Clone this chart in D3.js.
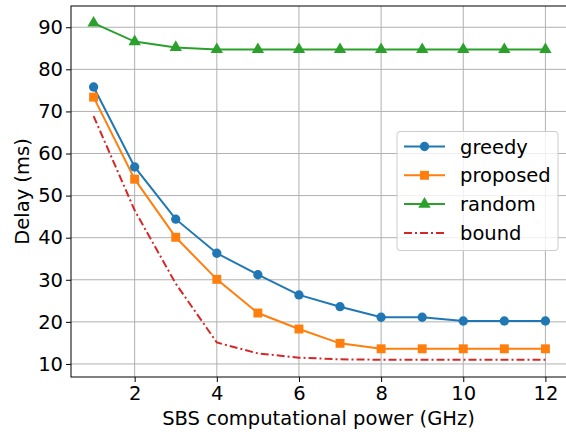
<!DOCTYPE html>
<html>
<head>
<meta charset="utf-8">
<script src="https://cdn.jsdelivr.net/npm/d3@7"></script>
<style>
  body { margin: 0; background: #fff; }
  svg text { font-family: "DejaVu Sans", sans-serif; }
</style>
</head>
<body>
<div id="chart"></div>
<script>
// data
const power = [1, 2, 3, 4, 5, 6, 7, 8, 9, 10, 11, 12];
const greedy = [75.8, 56.8, 44.4, 36.3, 31.2, 26.4, 23.6, 21.1, 21.1, 20.2, 20.2, 20.2];
const proposed = [73.4, 53.9, 40.1, 30.1, 22.1, 18.3, 14.9, 13.6, 13.6, 13.6, 13.6, 13.6];
const random = [91.0, 86.6, 85.2, 84.7, 84.7, 84.7, 84.7, 84.7, 84.7, 84.7, 84.7, 84.7];
const bound = [68.9, 46.5, 29.1, 15.1, 12.5, 11.5, 11.1, 11.0, 11.0, 11.0, 11.0, 11.0];
const xTicks = [2, 4, 6, 8, 10, 12];
const yTicks = [10, 20, 30, 40, 50, 60, 70, 80, 90];

const series = [
  {name: "greedy", values: greedy, color: "#1f77b4", marker: "circle"},
  {name: "proposed", values: proposed, color: "#ff7f0e", marker: "square"},
  {name: "random", values: random, color: "#2ca02c", marker: "triangle"},
  {name: "bound", values: bound, color: "#d62728", marker: null, dash: "8,3,2,3"}
];

const W = 566, H = 437;
const margin = {top: 6, left: 71, bottom: 377, right: 568};
const fontSize = 19.5;

const svg = d3.select("#chart").append("svg")
  .attr("width", W).attr("height", H);

const x = d3.scaleLinear().domain([0.45, 12.55]).range([margin.left, margin.right]);
const y = d3.scaleLinear().domain([6.9, 95.05]).range([margin.bottom, margin.top]);

// grid
svg.append("g").selectAll("line").data(xTicks).join("line")
  .attr("x1", d => x(d)).attr("x2", d => x(d))
  .attr("y1", margin.top).attr("y2", margin.bottom)
  .attr("stroke", "#b0b0b0").attr("stroke-width", 1);
svg.append("g").selectAll("line").data(yTicks).join("line")
  .attr("x1", margin.left).attr("x2", margin.right)
  .attr("y1", d => y(d)).attr("y2", d => y(d))
  .attr("stroke", "#b0b0b0").attr("stroke-width", 1);

// axes
const xAxis = svg.append("g")
  .attr("transform", "translate(0," + margin.bottom + ")")
  .call(d3.axisBottom(x).tickValues(xTicks).tickSize(5).tickPadding(4).tickFormat(d3.format("d")));
const yAxis = svg.append("g")
  .attr("transform", "translate(" + margin.left + ",0)")
  .call(d3.axisLeft(y).tickValues(yTicks).tickSize(5).tickPadding(3).tickFormat(d3.format("d")));
[xAxis, yAxis].forEach(a => {
  a.select(".domain").remove();
  a.selectAll("text").attr("font-size", fontSize).attr("fill", "#000")
    .style("font-family", "DejaVu Sans");
  a.selectAll(".tick line").attr("stroke", "#000").attr("stroke-width", 1);
});

// spines
svg.append("rect")
  .attr("x", margin.left).attr("y", margin.top)
  .attr("width", margin.right - margin.left).attr("height", margin.bottom - margin.top)
  .attr("fill", "none").attr("stroke", "#000").attr("stroke-width", 1);

// lines
const line = d3.line().x((d, i) => x(power[i])).y(d => y(d));
svg.append("g").selectAll("path").data(series).join("path")
  .attr("d", s => line(s.values))
  .attr("fill", "none")
  .attr("stroke", s => s.color)
  .attr("stroke-width", 2)
  .attr("stroke-dasharray", s => s.dash || null);

const symbols = {
  circle: d3.symbol().type(d3.symbolCircle).size(68),
  square: d3.symbol().type(d3.symbolSquare).size(80),
  triangle: d3.symbol().type(d3.symbolTriangle).size(66)
};

series.filter(s => s.marker).forEach(s => {
  svg.append("g").selectAll("path").data(s.values).join("path")
    .attr("transform", (d, i) => "translate(" + x(power[i]) + "," + y(d) + ")")
    .attr("d", symbols[s.marker])
    .attr("fill", s.color);
});

// axis labels
svg.append("text")
  .attr("x", (margin.left + 566) / 2).attr("y", 425)
  .attr("text-anchor", "middle").attr("font-size", fontSize)
  .text("SBS computational power (GHz)");
svg.append("text")
  .attr("transform", "translate(29," + ((margin.top + margin.bottom) / 2) + ") rotate(-90)")
  .attr("text-anchor", "middle").attr("font-size", fontSize)
  .text("Delay (ms)");

// legend
const legend = svg.append("g").attr("transform", "translate(397,131.5)");
legend.append("rect")
  .attr("width", 161).attr("height", 119).attr("rx", 3)
  .attr("fill", "#fff").attr("fill-opacity", 0.8)
  .attr("stroke", "#cccccc").attr("stroke-width", 1);
series.forEach((s, i) => {
  const g = legend.append("g").attr("transform", "translate(0," + (15 + i * 28.8) + ")");
  g.append("line")
    .attr("x1", 7).attr("x2", 48)
    .attr("stroke", s.color).attr("stroke-width", 2)
    .attr("stroke-dasharray", s.dash || null);
  if (s.marker) {
    g.append("path").attr("transform", "translate(27.5,0)")
      .attr("d", symbols[s.marker]).attr("fill", s.color);
  }
  g.append("text").attr("x", 63).attr("y", 7)
    .attr("font-size", fontSize).text(s.name);
});
</script>
</body>
</html>
